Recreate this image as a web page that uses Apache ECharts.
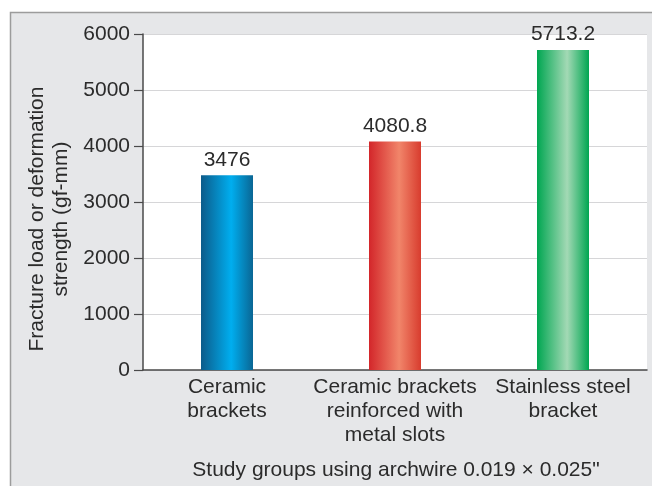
<!DOCTYPE html>
<html>
<head>
<meta charset="utf-8">
<script src="https://cdn.jsdelivr.net/npm/echarts@6/dist/echarts.min.js"></script>
<style>
  html, body { margin: 0; padding: 0; background: #ffffff; }
  #chart { width: 652px; height: 486px; }
</style>
</head>
<body>
<div id="chart"></div>
<script>
// Study groups and their measured fracture / deformation strength (gf-mm)
const categories = [
  'Ceramic\nbrackets',
  'Ceramic brackets\nreinforced with\nmetal slots',
  'Stainless steel\nbracket'
];
const strengthValues = [3476, 4080.8, 5713.2];
const yTicks = { min: 0, max: 6000, step: 1000 };

const yTitle = 'Fracture load or deformation\nstrength (gf-mm)';
const xTitle = 'Study groups using archwire 0.019 \u00d7 0.025"';

const FONT = '"Liberation Sans", Arial, Helvetica, sans-serif';
const TEXT = '#2b2b2b';
const SIZE = 21;

// Cylinder-like horizontal shading for each bar
function shade(edgeL, mid, edgeR) {
  return new echarts.graphic.LinearGradient(0, 0, 1, 0, [
    { offset: 0, color: edgeL },
    { offset: 0.58, color: mid },
    { offset: 1, color: edgeR }
  ]);
}
const barFills = [
  shade('#0c5b8a', '#00aeef', '#0a6694'),
  shade('#d3262a', '#f1856a', '#d83c2e'),
  shade('#00a651', '#a3d9b5', '#00a651')
];

const chart = echarts.init(document.getElementById('chart'), null, { renderer: 'canvas' });

chart.setOption({
  animation: false,
  backgroundColor: '#ffffff',
  graphic: [
    {
      type: 'rect',
      z: -10,
      silent: true,
      shape: { x: 10.5, y: 12.5, width: 660, height: 500 },
      style: { fill: '#e6e7e9', stroke: '#9c9c9c', lineWidth: 1.5 }
    },
    {
      type: 'text',
      x: 49, y: 219,
      rotation: Math.PI / 2,
      style: {
        text: yTitle,
        font: SIZE + 'px ' + FONT,
        fill: TEXT,
        align: 'center',
        verticalAlign: 'middle',
        lineHeight: 24
      }
    },
    {
      type: 'text',
      x: 396, y: 470,
      style: {
        text: xTitle,
        font: SIZE + 'px ' + FONT,
        fill: TEXT,
        align: 'center',
        verticalAlign: 'middle'
      }
    }
  ],
  grid: {
    left: 143, right: 5, top: 34, bottom: 116,
    show: true,
    backgroundColor: '#ffffff',
    borderWidth: 0
  },
  xAxis: {
    type: 'category',
    data: categories,
    axisLine: { show: true, lineStyle: { color: '#4a4a4a', width: 1.5 } },
    axisTick: { show: false },
    axisLabel: {
      interval: 0,
      margin: 5,
      fontSize: SIZE,
      lineHeight: 24,
      fontFamily: FONT,
      color: TEXT,
      align: 'center'
    },
    splitLine: { show: false }
  },
  yAxis: {
    type: 'value',
    min: yTicks.min,
    max: yTicks.max,
    interval: yTicks.step,
    axisLine: { show: true, lineStyle: { color: '#4a4a4a', width: 1.5 } },
    axisTick: { show: true, length: 9, lineStyle: { color: '#4a4a4a', width: 1.2 } },
    axisLabel: {
      margin: 13,
      fontSize: SIZE,
      fontFamily: FONT,
      color: TEXT,
      formatter: v => String(v)
    },
    splitLine: { show: true, lineStyle: { color: '#d6d6d8', width: 1.2 } }
  },
  series: [{
    type: 'bar',
    barWidth: 52,
    data: strengthValues.map((v, i) => ({
      value: v,
      itemStyle: { color: barFills[i] }
    })),
    label: {
      show: true,
      position: 'top',
      distance: 5,
      fontSize: SIZE,
      fontFamily: FONT,
      color: TEXT,
      formatter: p => String(p.value)
    }
  }]
});
</script>
</body>
</html>
